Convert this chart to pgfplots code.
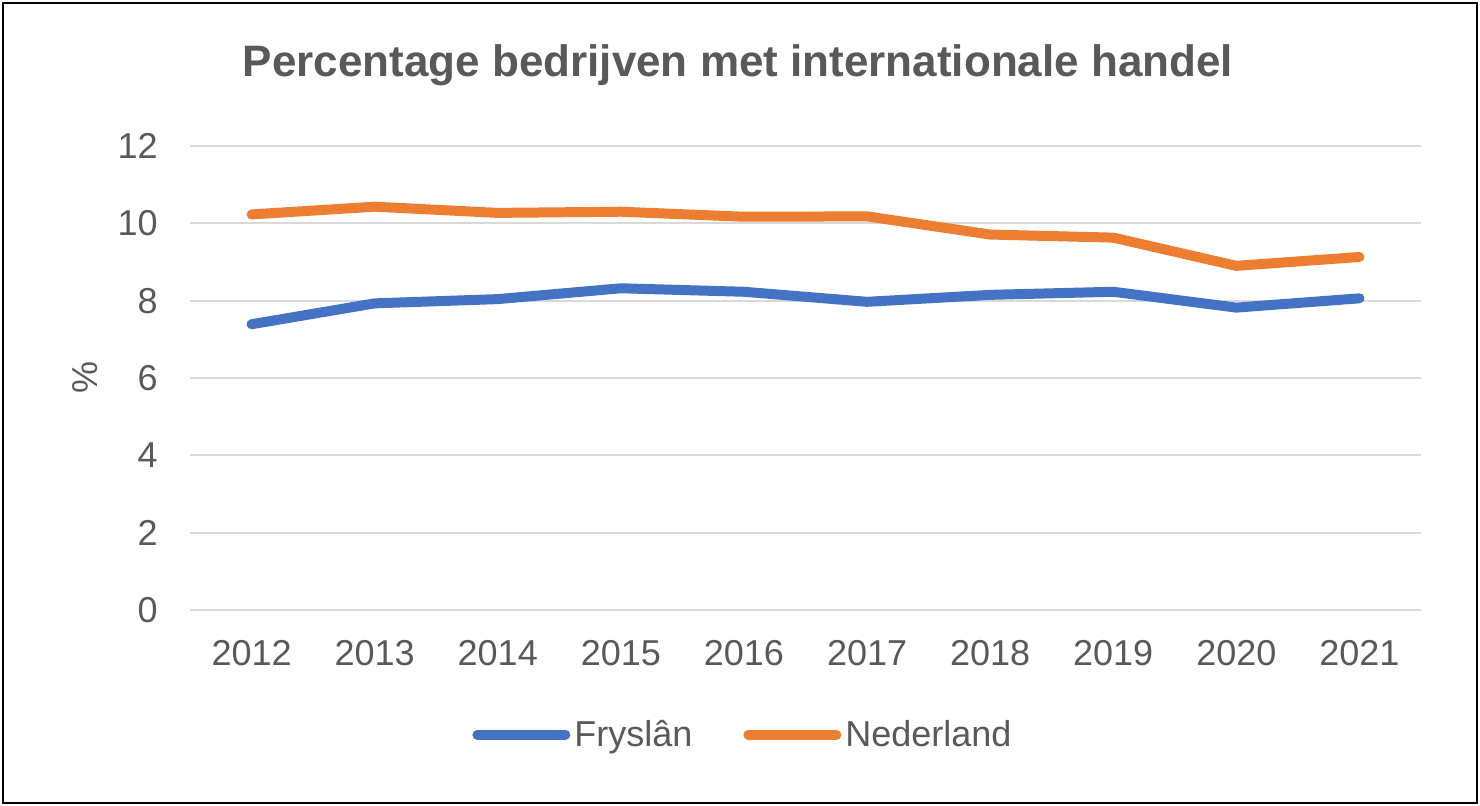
\documentclass[border=0pt]{standalone}
\usepackage{fontspec}
\setmainfont{Liberation Sans}
\usepackage{pgfplots}
\pgfplotsset{compat=1.18}
\definecolor{cblue}{HTML}{4472C4}
\definecolor{corange}{HTML}{ED7D31}
\definecolor{ctext}{HTML}{595959}
\definecolor{cgrid}{HTML}{D9D9D9}
\begin{document}
\begin{tikzpicture}
\path (-95pt,-98pt) rectangle (645pt,305pt);
\draw[black, line width=1.2pt] (-93.5pt,-96.5pt) rectangle (643.5pt,303.5pt);
\begin{axis}[
  at={(0pt,0pt)}, anchor=south west,
  scale only axis,
  width=615.5pt, height=232pt,
  xmin=-0.5, xmax=9.5, ymin=0, ymax=12,
  xtick={0,...,9},
  xticklabels={2012,2013,2014,2015,2016,2017,2018,2019,2020,2021},
  ytick={0,2,...,12},
  axis line style={draw=none},
  major tick length=0pt,
  ymajorgrids, grid style={cgrid, line width=1pt},
  /pgf/number format/assume math mode=true,
  ticklabel style={font=\fontsize{18}{20}\selectfont, text=ctext},
  yticklabel style={anchor=east, inner sep=0pt, xshift=-16pt},
  xticklabel style={anchor=north, inner sep=0pt, yshift=-15pt},
  ylabel={\%},
  ylabel style={font=\fontsize{18}{20}\selectfont, text=ctext, at={(axis description cs:-0.085,0.5)}, anchor=center, rotate=0},
  legend columns=2,
  legend style={at={(axis description cs:0.45,-0.269)}, anchor=center, draw=none, fill=none,
    font=\fontsize{18}{20}\selectfont, text=ctext,
    /tikz/every even column/.append style={column sep=23.5pt}},
  legend cell align=left,
  legend image code/.code={\draw[#1, line cap=round] (0pt,0pt) -- (44pt,0pt);},
]
\addplot[cblue, line width=5pt, line join=round, line cap=round] coordinates {
(0,7.39) (1,7.93) (2,8.04) (3,8.32) (4,8.23) (5,7.97) (6,8.15) (7,8.23) (8,7.82) (9,8.06)};
\addlegendentry{Fryslân}
\addplot[corange, line width=5pt, line join=round, line cap=round] coordinates {
(0,10.23) (1,10.43) (2,10.27) (3,10.30) (4,10.17) (5,10.18) (6,9.71) (7,9.63) (8,8.90) (9,9.13)};
\addlegendentry{Nederland}
\end{axis}
\node[font=\bfseries\fontsize{22}{24}\selectfont, text=ctext] at (274pt,272.5pt) {Percentage bedrijven met internationale handel};
\end{tikzpicture}
\end{document}
